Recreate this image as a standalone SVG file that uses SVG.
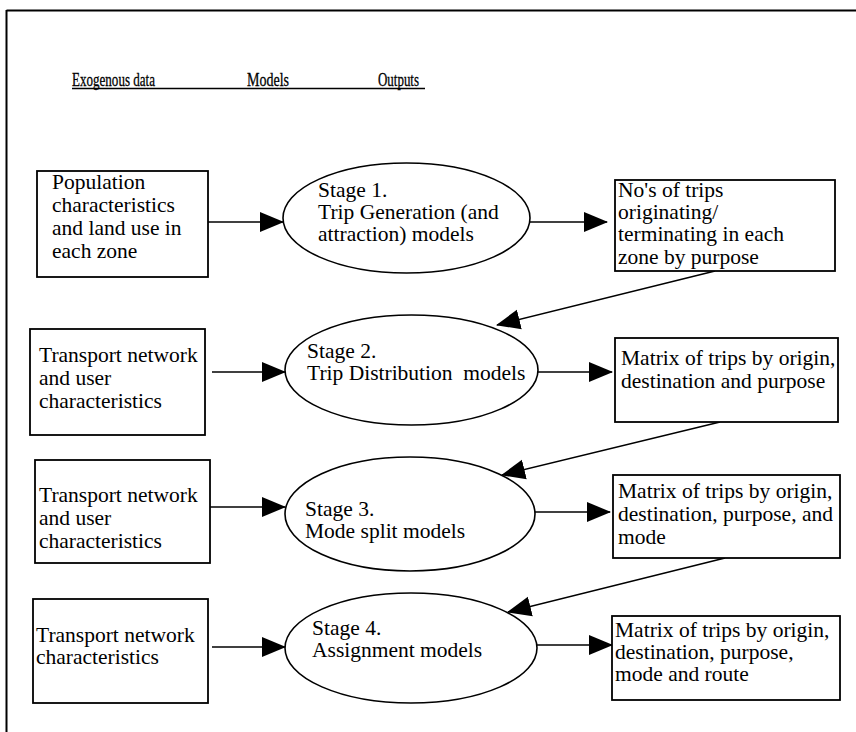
<svg xmlns="http://www.w3.org/2000/svg" width="856" height="732" viewBox="0 0 856 732">
<defs>
<style>
text{font-family:"Liberation Serif","Times New Roman",serif;fill:#000;}
.t{font-size:21.5px;}
.h{font-size:19px;stroke:#000;stroke-width:0.3;}
.box{fill:#fff;stroke:#000;stroke-width:1.8;}
.ell{fill:none;stroke:#000;stroke-width:1.6;}
.c{stroke:#000;stroke-width:1.6;fill:none;marker-end:url(#ah);}
.pre{white-space:pre;}
</style>
<marker id="ah" markerUnits="userSpaceOnUse" markerWidth="24" markerHeight="22" viewBox="0 0 24 22" refX="23" refY="11" orient="auto">
<path d="M0,1 L24,11 L0,21 Z" fill="#000"/>
</marker>
</defs>
<rect width="856" height="732" fill="#fff"/>
<g id="frame" stroke="#000" stroke-width="2" fill="none">
<line x1="6.5" y1="10.5" x2="856" y2="10.5"/>
<line x1="6.5" y1="10" x2="6.5" y2="732"/>
</g>
<g id="header" font-family="Liberation Serif, serif">
<text class="h" x="72" y="86" textLength="83" lengthAdjust="spacingAndGlyphs">Exogenous data</text>
<text class="h" x="247" y="86" textLength="42" lengthAdjust="spacingAndGlyphs">Models</text>
<text class="h" x="378" y="86" textLength="41" lengthAdjust="spacingAndGlyphs">Outputs</text>
<line x1="72" y1="88.5" x2="425" y2="88.5" stroke="#000" stroke-width="1.5"/>
</g>
<g id="connectors">
<line class="c" x1="208" y1="222" x2="283" y2="222"/>
<line class="c" x1="530" y1="222" x2="607" y2="222"/>
<line class="c" x1="715" y1="271" x2="497" y2="325"/>
<line class="c" x1="212" y1="372" x2="285" y2="372"/>
<line class="c" x1="538" y1="372" x2="612" y2="372"/>
<line class="c" x1="720" y1="422" x2="502" y2="475"/>
<line class="c" x1="210" y1="507" x2="285" y2="507"/>
<line class="c" x1="535" y1="512" x2="610" y2="512"/>
<line class="c" x1="725" y1="558" x2="508" y2="612"/>
<line class="c" x1="212" y1="647" x2="285" y2="647"/>
<line class="c" x1="537" y1="645" x2="612" y2="645"/>
</g>
<g id="input1" font-family="Liberation Serif, serif">
<rect class="box" x="37" y="171" width="171" height="106"/>
<text class="t" x="52" y="189">Population</text>
<text class="t" x="52" y="212">characteristics</text>
<text class="t" x="52" y="235">and land use in</text>
<text class="t" x="52" y="258">each zone</text>
</g>
<g id="stage1" font-family="Liberation Serif, serif">
<ellipse class="ell" cx="406.5" cy="218" rx="123.5" ry="55"/>
<text class="t" x="318" y="197">Stage 1.</text>
<text class="t" x="318" y="219">Trip Generation (and</text>
<text class="t" x="318" y="241">attraction) models</text>
</g>
<g id="output1" font-family="Liberation Serif, serif">
<rect class="box" x="615" y="180" width="220" height="91"/>
<text class="t" x="618" y="197">No's of trips</text>
<text class="t" x="618" y="219">originating/</text>
<text class="t" x="618" y="241">terminating in each</text>
<text class="t" x="618" y="264">zone by purpose</text>
</g>
<g id="input2" font-family="Liberation Serif, serif">
<rect class="box" x="30" y="329" width="175" height="106"/>
<text class="t" x="39" y="362">Transport network</text>
<text class="t" x="39" y="385">and user</text>
<text class="t" x="39" y="408">characteristics</text>
</g>
<g id="stage2" font-family="Liberation Serif, serif">
<ellipse class="ell" cx="411.5" cy="370" rx="126.5" ry="55"/>
<text class="t" x="307" y="358">Stage 2.</text>
<text class="t pre" x="307" y="380" xml:space="preserve">Trip Distribution  models</text>
</g>
<g id="output2" font-family="Liberation Serif, serif">
<rect class="box" x="615" y="338" width="223" height="84"/>
<text class="t" x="621" y="365">Matrix of trips by origin,</text>
<text class="t" x="621" y="388">destination and purpose</text>
</g>
<g id="input3" font-family="Liberation Serif, serif">
<rect class="box" x="35" y="460" width="175" height="103"/>
<text class="t" x="39" y="502">Transport network</text>
<text class="t" x="39" y="525">and user</text>
<text class="t" x="39" y="548">characteristics</text>
</g>
<g id="stage3" font-family="Liberation Serif, serif">
<ellipse class="ell" cx="410" cy="514" rx="125" ry="57"/>
<text class="t" x="305" y="516">Stage 3.</text>
<text class="t" x="305" y="538">Mode split models</text>
</g>
<g id="output3" font-family="Liberation Serif, serif">
<rect class="box" x="613" y="475" width="227" height="83"/>
<text class="t" x="618" y="498">Matrix of trips by origin,</text>
<text class="t" x="618" y="521">destination, purpose, and</text>
<text class="t" x="618" y="544">mode</text>
</g>
<g id="input4" font-family="Liberation Serif, serif">
<rect class="box" x="33" y="599" width="175" height="104"/>
<text class="t" x="36" y="642">Transport network</text>
<text class="t" x="36" y="664">characteristics</text>
</g>
<g id="stage4" font-family="Liberation Serif, serif">
<ellipse class="ell" cx="411" cy="648" rx="126" ry="55"/>
<text class="t" x="312" y="635">Stage 4.</text>
<text class="t" x="312" y="657">Assignment models</text>
</g>
<g id="output4" font-family="Liberation Serif, serif">
<rect class="box" x="612" y="616" width="228" height="84"/>
<text class="t" x="615" y="637">Matrix of trips by origin,</text>
<text class="t" x="615" y="659">destination, purpose,</text>
<text class="t" x="615" y="681">mode and route</text>
</g>
</svg>
